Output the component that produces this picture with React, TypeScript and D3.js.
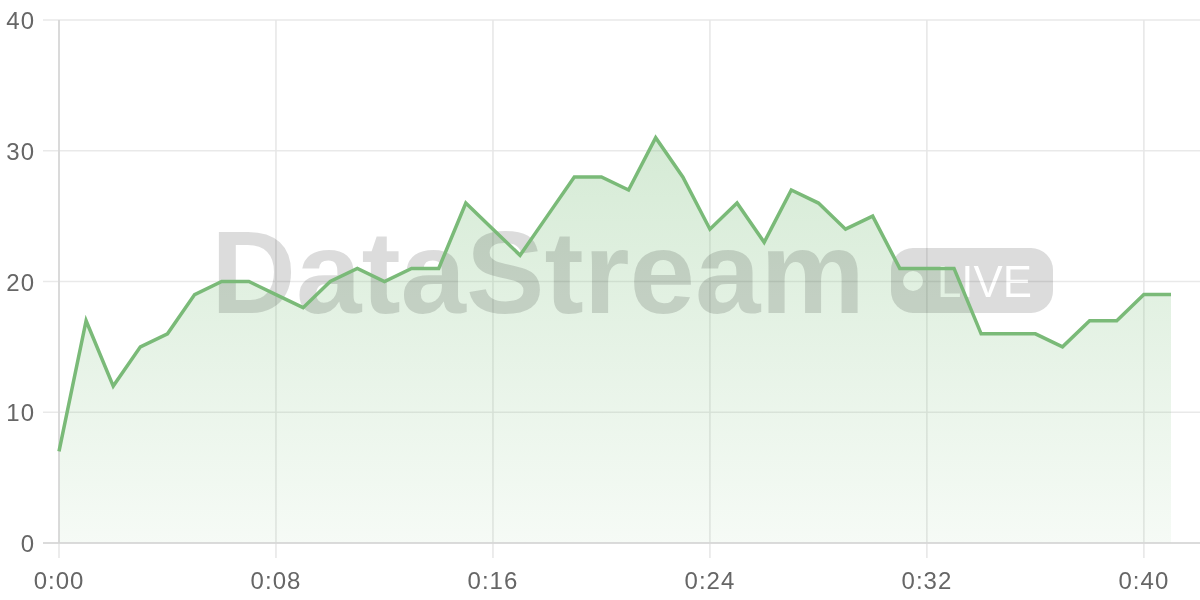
import React, { useEffect, useRef } from "react";
import * as d3 from "d3";

const minutes = Array.from({ length: 42 }, (_, i) => i);
const values = [7, 17, 12, 15, 16, 19, 20, 20, 19, 18, 20, 21, 20, 21, 21, 26, 24, 22, 25, 28, 28, 27, 31, 28, 24, 26, 23, 27, 26, 24, 25, 21, 21, 21, 16, 16, 16, 15, 17, 17, 19, 19];
const xTicks = [0, 8, 16, 24, 32, 40];
const yTicks = [0, 10, 20, 30, 40];

const W = 1200;
const H = 600;

export default function App() {
  const ref = useRef<SVGSVGElement>(null);
  useEffect(() => {
    const svg = d3.select(ref.current);
    svg.selectAll("*").remove();
    const x = d3.scaleLinear().domain([0, 41]).range([59, 1171]);
    const y = d3.scaleLinear().domain([0, 40]).range([543, 20]);
    const font = "'Liberation Sans', Arial, sans-serif";

    const defs = svg.append("defs");
    const grad = defs.append("linearGradient").attr("id", "areaGrad").attr("x1", 0).attr("y1", 0).attr("x2", 0).attr("y2", 1);
    grad.append("stop").attr("offset", "0%").attr("stop-color", "#7cbf7c").attr("stop-opacity", 0.32);
    grad.append("stop").attr("offset", "100%").attr("stop-color", "#7cbf7c").attr("stop-opacity", 0.07);

    // grid
    const g = svg.append("g");
    g.selectAll("line.hg").data(yTicks).enter().append("line")
      .attr("x1", 43).attr("x2", 1200)
      .attr("y1", (d) => y(d)).attr("y2", (d) => y(d))
      .attr("stroke", "#e9e9e9").attr("stroke-width", 1.5);
    g.selectAll("line.vg").data(xTicks).enter().append("line")
      .attr("x1", (d) => x(d)).attr("x2", (d) => x(d))
      .attr("y1", 20).attr("y2", 558)
      .attr("stroke", "#e6e6e6").attr("stroke-width", 1.5);

    // area
    const pts = minutes.map((m, i) => [m, values[i]] as [number, number]);
    const area = d3.area<[number, number]>().x((d) => x(d[0])).y0(y(0)).y1((d) => y(d[1]));
    svg.append("path").attr("d", area(pts) as string).attr("fill", "url(#areaGrad)");

    // axes lines
    svg.append("line").attr("x1", 59).attr("x2", 59).attr("y1", 20).attr("y2", 543).attr("stroke", "#d4d4d4").attr("stroke-width", 1.5);
    svg.append("line").attr("x1", 43).attr("x2", 1200).attr("y1", y(0)).attr("y2", y(0)).attr("stroke", "#d4d4d4").attr("stroke-width", 1.5);

    // watermark
    const wm = svg.append("g").attr("opacity", 0.14);
    wm.append("text").attr("x", 211).attr("y", 313).attr("font-family", font).attr("font-weight", 700)
      .attr("font-size", 116).attr("textLength", 654).attr("lengthAdjust", "spacingAndGlyphs")
      .attr("fill", "#000").text("DataStream");
    const mask = defs.append("mask").attr("id", "liveMask");
    mask.append("rect").attr("x", 0).attr("y", 0).attr("width", W).attr("height", H).attr("fill", "#fff");
    mask.append("circle").attr("cx", 913).attr("cy", 281).attr("r", 10).attr("fill", "#000");
    mask.append("text").attr("x", 937).attr("y", 297).attr("font-family", font).attr("font-size", 44)
      .attr("textLength", 95).attr("lengthAdjust", "spacingAndGlyphs")
      .attr("fill", "#000").text("LIVE");
    wm.append("rect").attr("x", 891).attr("y", 248).attr("width", 162).attr("height", 65).attr("rx", 22)
      .attr("fill", "#000").attr("mask", "url(#liveMask)");

    // line
    const line = d3.line<[number, number]>().x((d) => x(d[0])).y((d) => y(d[1]));
    svg.append("path").attr("d", line(pts) as string).attr("fill", "none")
      .attr("stroke", "#7aba78").attr("stroke-width", 3.5).attr("stroke-linejoin", "miter");

    // labels
    svg.selectAll("text.yl").data(yTicks).enter().append("text")
      .attr("x", 35).attr("y", (d) => y(d) + 9).attr("text-anchor", "end")
      .attr("font-family", font).attr("font-size", 24).attr("letter-spacing", 1).attr("fill", "#666").text((d) => String(d));
    svg.selectAll("text.xl").data(xTicks).enter().append("text")
      .attr("x", (d) => x(d)).attr("y", 589).attr("text-anchor", "middle")
      .attr("font-family", font).attr("font-size", 24).attr("letter-spacing", 1).attr("fill", "#666")
      .text((d) => `0:${String(d).padStart(2, "0")}`);
  }, []);
  return (
    <svg ref={ref} width={W} height={H} style={{ position: "fixed", top: 0, left: 0, background: "#fff" }} />
  );
}
